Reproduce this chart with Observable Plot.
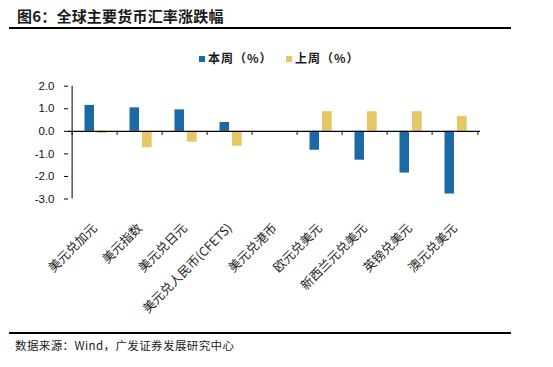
<!DOCTYPE html>
<html>
<head>
<meta charset="utf-8">
<script src="https://cdn.jsdelivr.net/npm/d3@7"></script>
<script src="https://cdn.jsdelivr.net/npm/@observablehq/plot@0.6"></script>
<style>
  html, body { margin: 0; padding: 0; background: #fff; }
  #wrap { position: relative; width: 553px; height: 367px; overflow: hidden; font-family: "Noto Sans CJK SC", sans-serif; }
  #title { position: absolute; left: 17px; top: 5px; font-size: 15px; font-weight: bold; color: #1a1a1a; letter-spacing: 0.2px; white-space: nowrap; }
  #topline { position: absolute; left: 9px; top: 27px; width: 502px; height: 2px; background: #000; }
  #legend { position: absolute; left: 0; top: 50px; width: 553px; height: 18px; font-size: 12px; font-weight: bold; color: #1a1a1a; letter-spacing: 1px; }
  .item { position: absolute; top: 0; white-space: nowrap; line-height: 16px; }
  .sw { display: inline-block; width: 6px; height: 6px; margin-right: 3px; vertical-align: 1px; }
  #chart { position: absolute; left: 0; top: 75px; }
  #botline { position: absolute; left: 9px; top: 332px; width: 502px; height: 1.5px; background: #000; }
  #caption { position: absolute; left: 15px; top: 337px; font-size: 11.5px; color: #1a1a1a; white-space: nowrap; letter-spacing: 0.4px; }
</style>
</head>
<body>
<div id="wrap">
  <div id="title">图6：全球主要货币汇率涨跌幅</div>
  <div id="topline"></div>
  <div id="legend"></div>
  <div id="chart"></div>
  <div id="botline"></div>
  <div id="caption">数据来源：Wind，广发证券发展研究中心</div>
</div>
<script>
const categories = ["美元兑加元", "美元指数", "美元兑日元", "美元兑人民币(CFETS)", "美元兑港币", "欧元兑美元", "新西兰元兑美元", "英镑兑美元", "澳元兑美元"];
const seriesNames = ["本周（%）", "上周（%）"];
const thisWeek = [1.15, 1.04, 0.95, 0.39, 0.0, -0.84, -1.28, -1.85, -2.78];
const lastWeek = [-0.1, -0.73, -0.48, -0.66, 0.0, 0.87, 0.87, 0.87, 0.66];
const yTicks = [2, 1, 0, -1, -2, -3];
const colors = ["#1b6aa5", "#e6c766"];

const data = [];
categories.forEach((c, i) => {
  data.push({cat: c, series: seriesNames[0], v: thisWeek[i]});
  data.push({cat: c, series: seriesNames[1], v: lastWeek[i]});
});

const W = 553, H = 256, mL = 68, mR = 73, mT = 10.7, mB = 132.5;
const bw = (W - mL - mR) / categories.length;

const legend = document.getElementById("legend");
const legendX = [199, 286];
seriesNames.forEach((s, i) => {
  const d = document.createElement("div");
  d.className = "item";
  d.style.left = legendX[i] + "px";
  d.innerHTML = `<span class="sw" style="background:${colors[i]}"></span>${s}`;
  legend.appendChild(d);
});

const chart = Plot.plot({
  width: W,
  height: H,
  marginLeft: mL,
  marginRight: mR,
  marginTop: mT,
  marginBottom: mB,
  style: {fontFamily: "'Liberation Sans', Arial, sans-serif", background: "#fff", color: "#111"},
  x: {domain: categories, padding: 0, label: null},
  y: {domain: [-3, 2], label: null},
  color: {domain: seriesNames, range: colors},
  marks: [
    Plot.barY(data.filter(d => d.series === seriesNames[0]), {x: "cat", y: "v", fill: colors[0], insetLeft: 12.5, insetRight: 23}),
    Plot.barY(data.filter(d => d.series === seriesNames[1]), {x: "cat", y: "v", fill: colors[1], insetLeft: 25, insetRight: 10.3}),
    Plot.ruleY([0], {stroke: "#000", strokeWidth: 1.2}),
    Plot.ruleX([categories[0]], {y1: -3, y2: 2, dx: -bw / 2, stroke: "#000", strokeWidth: 1}),
    Plot.ruleX(categories, {y1: 0, y2: 0, insetBottom: -4, dx: -bw / 2, stroke: "#000", strokeWidth: 1}),
    Plot.ruleX([categories[categories.length - 1]], {y1: 0, y2: 0, insetBottom: -4, dx: bw / 2, stroke: "#000", strokeWidth: 1}),
    Plot.axisY({ticks: yTicks, tickSize: 4, tickPadding: 10, tickFormat: d => d.toFixed(1), fontSize: 11.5, stroke: "#000"}),
    Plot.axisX({anchor: "bottom", tickSize: 0, tickRotate: -45, tickPadding: 27, fontSize: 12.5, fontFamily: "'Noto Sans CJK SC', sans-serif", fill: "#222", style: {letterSpacing: "0.6px"}})
  ]
});
document.getElementById("chart").appendChild(chart);
</script>
</body>
</html>
